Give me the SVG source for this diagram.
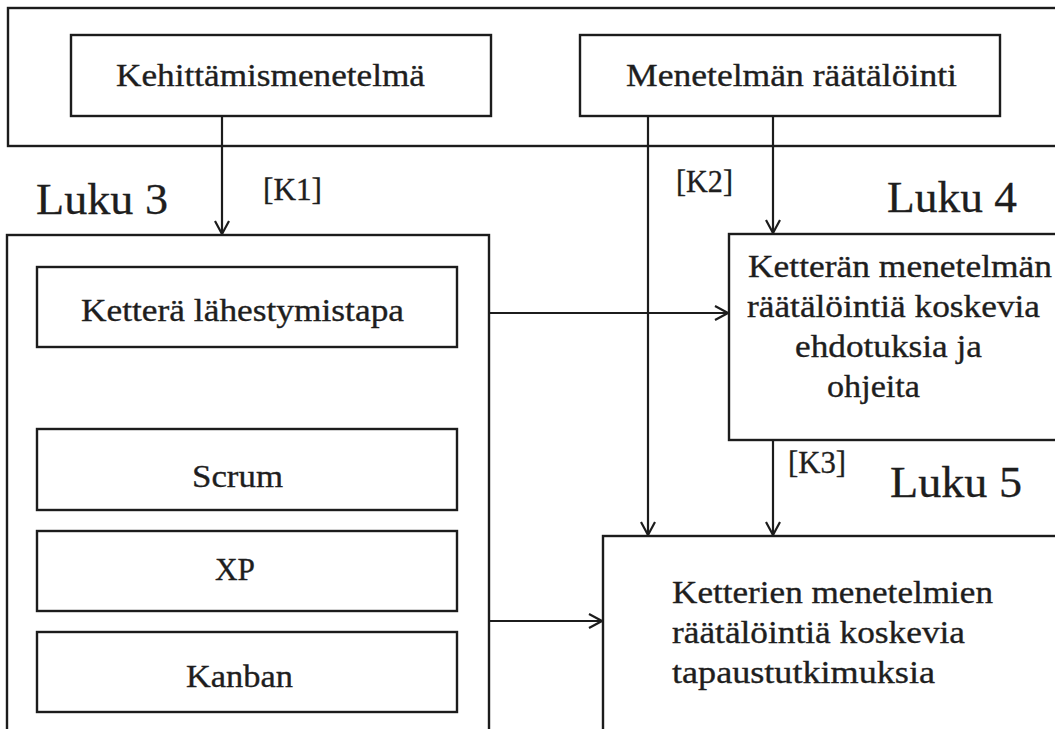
<svg xmlns="http://www.w3.org/2000/svg" width="1055" height="729" viewBox="0 0 1055 729">
  <style>
    .box { fill: #ffffff; stroke: #1c1c1c; stroke-width: 2.4; }
    .frame { fill: none; stroke: #1c1c1c; stroke-width: 2.4; }
    .txt { font-family: "Liberation Serif", "DejaVu Serif", serif; font-size: 32px; fill: #1e1e1e; stroke: #1e1e1e; stroke-width: 0.35; }
    .luku { font-family: "Liberation Serif", "DejaVu Serif", serif; font-size: 44px; fill: #1e1e1e; stroke: #1e1e1e; stroke-width: 0.3; }
    .conn { fill: none; stroke: #1c1c1c; stroke-width: 2.2; }
  </style>
  <defs>
    <marker id="arrow" markerUnits="userSpaceOnUse" viewBox="0 0 16 16" refX="15" refY="8" markerWidth="16" markerHeight="16" orient="auto">
      <path d="M2,1 L15,8 L2,15" fill="none" stroke="#1c1c1c" stroke-width="2.2"/>
    </marker>
  </defs>

  <rect width="1055" height="729" fill="#ffffff"/>

  <!-- top frame with the two source concepts -->
  <g id="frame-top">
    <rect class="frame" x="8" y="8" width="1060" height="138"/>
  </g>
  <g id="node-kehittamismenetelma">
    <rect class="box" x="71" y="35" width="420" height="81"/>
    <text class="txt" x="116" y="86" textLength="309" lengthAdjust="spacingAndGlyphs">Kehittämismenetelmä</text>
  </g>
  <g id="node-raatalointi">
    <rect class="box" x="580" y="35" width="420" height="81"/>
    <text class="txt" x="626" y="86" textLength="331" lengthAdjust="spacingAndGlyphs">Menetelmän räätälöinti</text>
  </g>

  <!-- chapter 3 -->
  <g id="node-luku3">
    <text class="luku" x="36" y="214" textLength="132" lengthAdjust="spacingAndGlyphs">Luku 3</text>
    <rect class="frame" x="7" y="235" width="482" height="510"/>
  </g>
  <g id="node-ketteralahestymistapa">
    <rect class="box" x="37" y="267" width="420" height="80"/>
    <text class="txt" x="81" y="321" textLength="323" lengthAdjust="spacingAndGlyphs">Ketterä lähestymistapa</text>
  </g>
  <g id="node-scrum">
    <rect class="box" x="37" y="429" width="420" height="81"/>
    <text class="txt" x="192" y="487" textLength="91" lengthAdjust="spacingAndGlyphs">Scrum</text>
  </g>
  <g id="node-xp">
    <rect class="box" x="37" y="531" width="420" height="80"/>
    <text class="txt" x="215" y="580" textLength="40" lengthAdjust="spacingAndGlyphs">XP</text>
  </g>
  <g id="node-kanban">
    <rect class="box" x="37" y="632" width="420" height="80"/>
    <text class="txt" x="186" y="687" textLength="107" lengthAdjust="spacingAndGlyphs">Kanban</text>
  </g>

  <!-- chapter 4 -->
  <g id="node-luku4">
    <text class="luku" x="887" y="212" textLength="130" lengthAdjust="spacingAndGlyphs">Luku 4</text>
    <rect class="box" x="729" y="234" width="340" height="206"/>
    <text class="txt" x="748" y="277" textLength="304" lengthAdjust="spacingAndGlyphs">Ketterän menetelmän</text>
    <text class="txt" x="747" y="317" textLength="293" lengthAdjust="spacingAndGlyphs">räätälöintiä koskevia</text>
    <text class="txt" x="795" y="357" textLength="187" lengthAdjust="spacingAndGlyphs">ehdotuksia ja</text>
    <text class="txt" x="827" y="397" textLength="93" lengthAdjust="spacingAndGlyphs">ohjeita</text>
  </g>

  <!-- chapter 5 -->
  <g id="node-luku5">
    <text class="luku" x="890" y="497" textLength="132" lengthAdjust="spacingAndGlyphs">Luku 5</text>
    <rect class="box" x="603" y="536" width="470" height="210"/>
    <text class="txt" x="672" y="603" textLength="321" lengthAdjust="spacingAndGlyphs">Ketterien menetelmien</text>
    <text class="txt" x="672" y="643" textLength="293" lengthAdjust="spacingAndGlyphs">räätälöintiä koskevia</text>
    <text class="txt" x="672" y="683" textLength="263" lengthAdjust="spacingAndGlyphs">tapaustutkimuksia</text>
  </g>

  <!-- connectors and their labels -->
  <g id="connectors">
    <line class="conn" x1="222" y1="116" x2="222" y2="234" marker-end="url(#arrow)"/>
    <line class="conn" x1="648" y1="116" x2="648" y2="535" marker-end="url(#arrow)"/>
    <line class="conn" x1="773" y1="116" x2="773" y2="233" marker-end="url(#arrow)"/>
    <line class="conn" x1="773" y1="440" x2="773" y2="535" marker-end="url(#arrow)"/>
    <line class="conn" x1="489" y1="313" x2="728" y2="313" marker-end="url(#arrow)"/>
    <line class="conn" x1="489" y1="621" x2="602" y2="621" marker-end="url(#arrow)"/>
    <text class="txt" x="263" y="200" textLength="59" lengthAdjust="spacingAndGlyphs">[K1]</text>
    <text class="txt" x="676" y="192" textLength="57" lengthAdjust="spacingAndGlyphs">[K2]</text>
    <text class="txt" x="788" y="473" textLength="58" lengthAdjust="spacingAndGlyphs">[K3]</text>
  </g>
</svg>
